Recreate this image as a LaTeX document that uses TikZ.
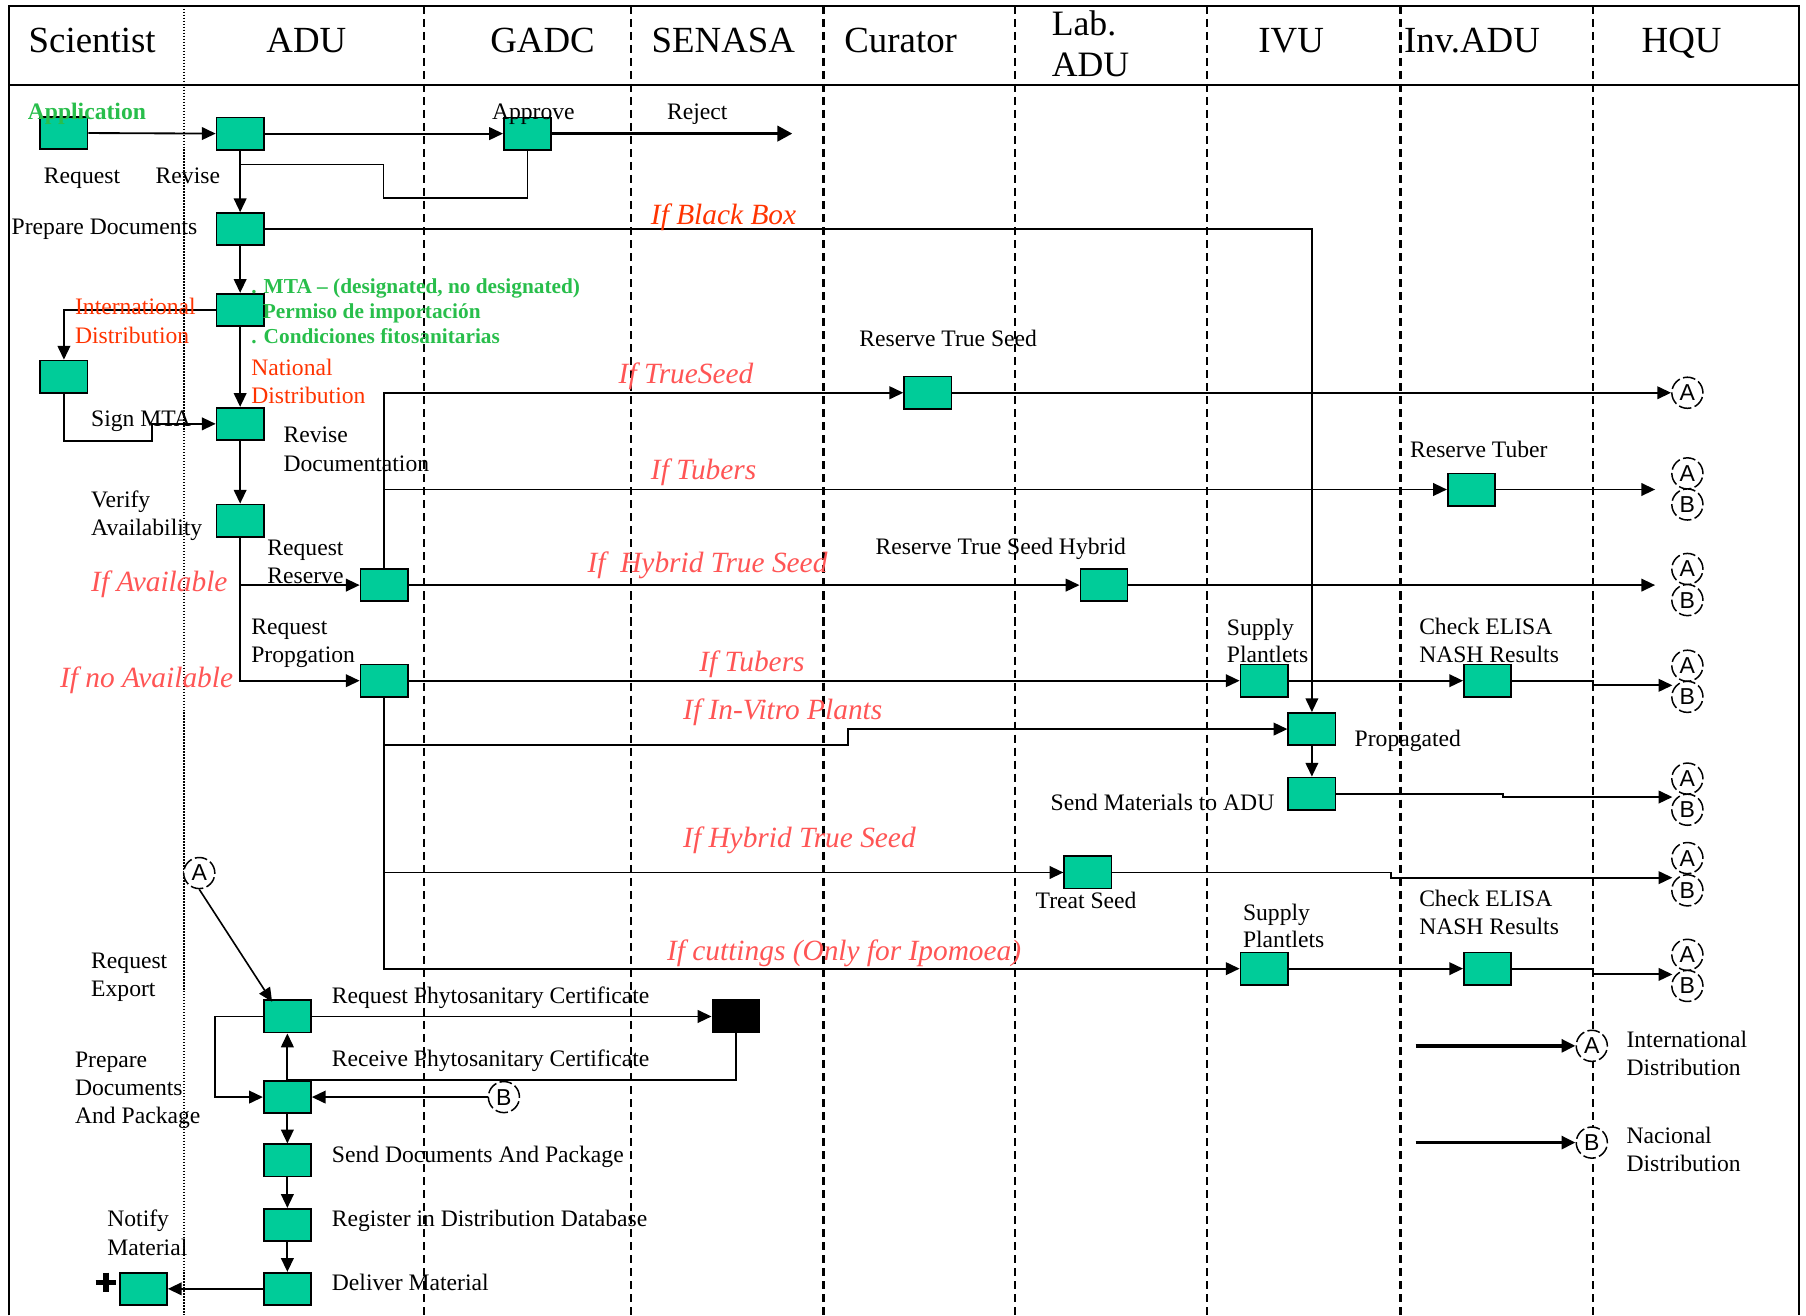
\documentclass[tikz,border=0pt]{standalone}
\usepackage{fontspec}
\setmainfont{Liberation Serif}
\newfontfamily\circfont{Liberation Sans}
\usetikzlibrary{arrows.meta}
\definecolor{boxc}{HTML}{00CC99}
\definecolor{grn}{RGB}{40,190,75}
\definecolor{ored}{HTML}{FF3300}
\definecolor{pred}{HTML}{FF5555}
\begin{document}
\begin{tikzpicture}[x=1pt,y=-1pt,
 box/.style={draw, line width=1.5pt, fill=boxc, minimum width=41pt, minimum height=28pt, inner sep=0pt},
 blackbox/.style={box, fill=black},
 conn/.style={line width=1.6pt},
 arr/.style={conn, -{Triangle[length=12pt,width=11pt]}},
 circ/.style={circle, draw, fill=white, line width=1.3pt, dash pattern=on 11pt off 3pt, minimum size=27pt, inner sep=0pt, font=\circfont\fontsize{20}{20}\selectfont},
 lbl/.style={anchor=base west, inner sep=0pt, font=\fontsize{20.5}{24}\selectfont},
 hdr/.style={anchor=base, inner sep=0pt, font=\fontsize{32}{36}\selectfont},
 hdrw/.style={anchor=base west, inner sep=0pt, font=\fontsize{31}{34}\selectfont},
 gb/.style={anchor=base west, inner sep=0pt, text=grn, font=\bfseries\fontsize{18.5}{22}\selectfont},
 rd/.style={lbl, text=ored},
 itp/.style={anchor=base west, inner sep=0pt, text=pred, font=\itshape\fontsize{25.5}{30}\selectfont},
 ito/.style={itp, text=ored},
 lane/.style={line width=2pt, dash pattern=on 7pt off 4.3pt},
]
\useasboundingbox (0,0) rectangle (1568,1142);
% frame and lanes
\draw[line width=1.6pt] (8,1142) -- (8,5) -- (1562,5) -- (1562,1142);
\draw[line width=1.6pt] (8,74) -- (1562,74);
\draw[line width=1.5pt, dash pattern=on 1.3pt off 1.3pt] (160,5) -- (160,1142);
\foreach \x in {368,548,715,881,1048,1216,1383} \draw[lane] (\x,5) -- (\x,1142);

% headers
\node[hdr] (hsci) at (80,46) {Scientist};
\node[hdr] (hadu) at (266,46) {ADU};
\node[hdr] (hgadc) at (471,46) {GADC};
\node[hdr] (hsen) at (628,46) {SENASA};
\node[hdr] (hcur) at (782,46) {Curator};
\node[hdrw] (hlab1) at (913,31) {Lab.};
\node[hdrw] (hlab2) at (913,66) {ADU};
\node[hdr] (hivu) at (1121,46) {IVU};
\node[hdr] (hinv) at (1278,46) {Inv.ADU};
\node[hdr] (hhqu) at (1460,46) {HQU};

% boxes
\node[box] (req) at (55.5,115.5) {};
\node[box] (rev) at (208.5,116) {};
\node[box] (app) at (458,116) {};
\node[box] (prep) at (208.5,199) {};
\node[box] (mta) at (208.5,269) {};
\node[box] (intl) at (55.5,327) {};
\node[box] (sign) at (208.5,368) {};
\node[box] (ver) at (208.5,452) {};
\node[box] (rres) at (333.5,508) {};
\node[box] (rprop) at (333.5,591) {};
\node[box] (rts) at (805.5,341) {};
\node[box] (rtub) at (1277.5,425) {};
\node[box] (rtsh) at (958.5,508) {};
\node[box] (sup1) at (1097.5,591) {};
\node[box] (chk1) at (1291.5,591) {};
\node[box] (propg) at (1139,633) {};
\node[box] (send) at (1139,689) {};
\node[box] (treat) at (944.5,757.5) {};
\node[box] (sup2) at (1097.5,841) {};
\node[box] (chk2) at (1291.5,841) {};
\node[box] (rpc) at (249.5,882.5) {};
\node[blackbox] (blk) at (639,882.5) {};
\node[box] (pdp) at (249.5,952.5) {};
\node[box] (sdp) at (249.5,1007.5) {};
\node[box] (reg) at (249.5,1063.5) {};
\node[box] (dlv) at (249.5,1119) {};
\node[box] (ntf) at (124.5,1119) {};

% circles
\node[circ] (cA1) at (1465,341) {A};
\node[circ] (cA2) at (1465,411) {A};
\node[circ] (cB2) at (1465,438) {B};
\node[circ] (cA3) at (1465,494) {A};
\node[circ] (cB3) at (1465,521) {B};
\node[circ] (cA4) at (1465,578) {A};
\node[circ] (cB4) at (1465,605) {B};
\node[circ] (cA5) at (1465,676) {A};
\node[circ] (cB5) at (1465,703) {B};
\node[circ] (cA6) at (1465,745) {A};
\node[circ] (cB6) at (1465,773) {B};
\node[circ] (cA7) at (1465,829) {A};
\node[circ] (cB7) at (1465,856) {B};
\node[circ] (cA8) at (1382,908) {A};
\node[circ] (cB8) at (1382,992) {B};
\node[circ] (cAx) at (173,758) {A};
\node[circ] (cBx) at (437.5,952.5) {B};

% free-end coordinates
\coordinate (rejend) at (688,116);
\coordinate (fb1) at (333,172);
\coordinate (fb2) at (208.5,143);
\coordinate (sg1) at (132,383);
\coordinate (e2) at (1437,425);
\coordinate (e3) at (1437,508);
\coordinate (s4) at (1383,595);
\coordinate (e4) at (1452,595);
\coordinate (iv1) at (736,647);
\coordinate (iv2) at (736,633);
\coordinate (s5) at (1305,692);
\coordinate (e5) at (1452,692);
\coordinate (s6) at (1208,762);
\coordinate (e6) at (1452,762);
\coordinate (s7) at (1383,846);
\coordinate (e7) at (1452,846);
\coordinate (l1) at (1229,908);
\coordinate (l2) at (1229,992);
\coordinate (lp) at (187,882.5);

% connectors
\draw[arr] (req.east) -- (rev.west);
\draw[arr] (rev.east) -- (app.west);
\draw[line width=3.2pt, -{Triangle[length=13pt,width=13pt]}] (app.east) -- (rejend);
\draw[arr] (rev.south) -- (prep.north);
\draw[conn, line width=1.3pt] (app.south) |- (fb1) |- (fb2);
\draw[arr] (prep.south) -- (mta.north);
\draw[arr] (prep.east) -| (propg.north);
\draw[arr] (mta.west) -| (intl.north);
\draw[arr] (intl.south) |- (sg1) |- (sign.west);
\draw[arr] (mta.south) -- (sign.north);
\draw[arr] (sign.south) -- (ver.north);
\draw[arr] (ver.south) |- (rprop.west);
\draw[arr] (ver.south |- rres.west) -- (rres.west);
\draw[arr] (rres.north) |- (rts.west);
\draw[arr] (rres.north |- rtub.west) -- (rtub.west);
\draw[arr] (rres.east) -- (rtsh.west);
\draw[arr] (rts.east) -- (cA1.west);
\draw[arr] (rtub.east) -- (e2);
\draw[arr] (rtsh.east) -- (e3);
\draw[arr] (rprop.east) -- (sup1.west);
\draw[arr] (sup1.east) -- (chk1.west);
\draw[arr] (chk1.east) -| (s4) -- (e4);
\draw[arr] (rprop.south) |- (sup2.west);
\draw[arr] (rprop.south |- iv1) -- (iv1) -- (iv2) -- (propg.west);
\draw[arr] (rprop.south |- treat.west) -- (treat.west);
\draw[arr] (propg.south) -- (send.north);
\draw[arr] (send.east) -| (s5) -- (e5);
\draw[arr] (treat.east) -| (s6) -- (e6);
\draw[arr] (sup2.east) -- (chk2.west);
\draw[arr] (chk2.east) -| (s7) -- (e7);
\draw[arr, line width=3pt] (l1) -- (cA8.west);
\draw[arr, line width=3pt] (l2) -- (cB8.west);
\draw[arr, line width=1.4pt] (cAx.south) -- ([xshift=8pt,yshift=-2pt]rpc.north west);
\draw[arr] (rpc.east) -- (blk.west);
\draw[conn] (blk.south) |- (pdp.north);
\draw[arr] (pdp.north) -- (rpc.south);
\draw[arr] (cBx.west) -- (pdp.east);
\draw[arr] (rpc.west) -- (lp) |- (pdp.west);
\draw[arr] (pdp.south) -- (sdp.north);
\draw[arr] (sdp.south) -- (reg.north);
\draw[arr] (reg.south) -- (dlv.north);
\draw[arr] (dlv.west) -- (ntf.east);
% plus sign
\draw[line width=4.5pt] (83,1113.5) -- (101,1113.5) (92,1105) -- (92,1122);

% labels
\node[anchor=base west, inner sep=0pt, text=grn, font=\bfseries\fontsize{20.5}{24}\selectfont] (tapp) at (24,104) {Application};
\node[lbl] (treq) at (38,159.5) {Request};
\node[lbl] (trev) at (135,159.5) {Revise};
\node[lbl] (tappr) at (427,104) {Approve};
\node[lbl] (trej) at (579,104) {Reject};
\node[lbl] (tprep) at (10,203.5) {Prepare Documents};
\node[ito] (tbb) at (565,194.5) {If Black Box};
\node[gb] (tg1) at (218,254.5) {. MTA – (designated, no designated)};
\node[gb] (tg2) at (228,276.5) {Permiso de importación};
\node[gb] (tg3) at (218,298) {. Condiciones fitosanitarias};
\node[rd] (tint1) at (65,273) {International};
\node[rd] (tint2) at (65,298) {Distribution};
\node[rd] (tnat1) at (218,326) {National};
\node[rd] (tnat2) at (218,350.5) {Distribution};
\node[itp] (tts) at (537,333) {If TrueSeed};
\node[lbl] (trts) at (746,300.5) {Reserve True Seed};
\node[lbl] (tsign) at (79,370) {Sign MTA};
\node[lbl] (trd1) at (246,384) {Revise};
\node[lbl] (trd2) at (246,409) {Documentation};
\node[itp] (ttub1) at (565,416.5) {If Tubers};
\node[lbl] (trtub) at (1224,397.5) {Reserve Tuber};
\node[lbl] (tver1) at (79,440.5) {Verify};
\node[lbl] (tver2) at (79,465) {Availability};
\node[lbl] (trr1) at (232,482) {Request};
\node[lbl] (trr2) at (232,506.5) {Reserve};
\node[itp] (tav) at (79,513.5) {If Available};
\node[itp] (thyb1) at (510,497) {If\ \ Hybrid True Seed};
\node[lbl] (trtsh) at (760,481.5) {Reserve True Seed Hybrid};
\node[lbl] (trp1) at (218,551) {Request};
\node[lbl] (trp2) at (218,575.5) {Propgation};
\node[itp] (tnav) at (52,597) {If no Available};
\node[itp] (ttub2) at (607,583) {If Tubers};
\node[lbl] (tsup1a) at (1065,551.5) {Supply};
\node[lbl] (tsup1b) at (1065,575.5) {Plantlets};
\node[lbl] (tchk1a) at (1232,551) {Check ELISA};
\node[lbl] (tchk1b) at (1232,575.5) {NASH Results};
\node[itp] (tiv) at (593,625) {If In-Vitro Plants};
\node[lbl] (tpropg) at (1176,648.5) {Propagated};
\node[lbl] (tsend) at (912,703.5) {Send Materials to ADU};
\node[itp] (thyb2) at (593,736) {If Hybrid True Seed};
\node[lbl] (ttreat) at (899,789) {Treat Seed};
\node[lbl] (tsup2a) at (1079,799) {Supply};
\node[lbl] (tsup2b) at (1079,822.5) {Plantlets};
\node[lbl] (tchk2a) at (1232,787) {Check ELISA};
\node[lbl] (tchk2b) at (1232,811.5) {NASH Results};
\node[itp] (tcut) at (579,834) {If cuttings (Only for Ipomoea)};
\node[lbl] (tre1) at (79,841) {Request};
\node[lbl] (tre2) at (79,865) {Export};
\node[lbl] (trpc) at (288,871) {Request Phytosanitary Certificate};
\node[lbl] (tpdp1) at (65,926.5) {Prepare};
\node[lbl] (tpdp2) at (65,951) {Documents};
\node[lbl] (tpdp3) at (65,975.5) {And Package};
\node[lbl] (trcv) at (288,926) {Receive Phytosanitary Certificate};
\node[lbl] (tsdp) at (288,1009.5) {Send Documents And Package};
\node[lbl] (treg) at (288,1065) {Register in Distribution Database};
\node[lbl] (tntf1) at (93,1065) {Notify};
\node[lbl] (tntf2) at (93,1090) {Material};
\node[lbl] (tdlv) at (288,1120.5) {Deliver Material};
\node[lbl] (tleg1) at (1412,909.5) {International};
\node[lbl] (tleg2) at (1412,933.5) {Distribution};
\node[lbl] (tleg3) at (1412,993) {Nacional};
\node[lbl] (tleg4) at (1412,1017) {Distribution};
\end{tikzpicture}
\end{document}
